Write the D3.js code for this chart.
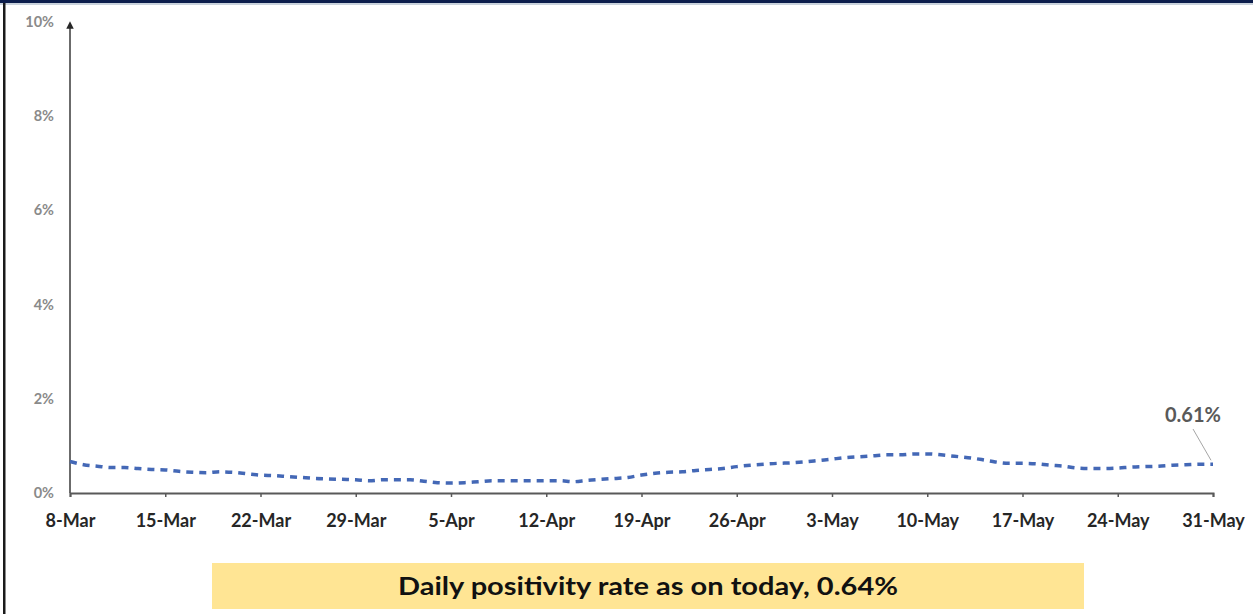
<!DOCTYPE html>
<html>
<head>
<meta charset="utf-8">
<script src="https://cdn.jsdelivr.net/npm/d3@7"></script>
<style>
  html, body { margin: 0; padding: 0; background: #fff; }
  svg { display: block; }
</style>
</head>
<body>
<svg id="chart" width="1253" height="614"></svg>
<script>
// Daily positivity rate, 8-Mar to 31-May (one value per day, in %)
const startDate = new Date(2021, 2, 8);
const rates = [
    0.67, 0.60, 0.57, 0.54, 0.54, 0.52, 0.50, 0.49, 0.46, 0.44,
    0.43, 0.45, 0.44, 0.41, 0.38, 0.37, 0.35, 0.33, 0.31, 0.30,
    0.29, 0.28, 0.26, 0.28, 0.28, 0.28, 0.25, 0.22, 0.21, 0.22,
    0.24, 0.26, 0.26, 0.26, 0.26, 0.26, 0.26, 0.24, 0.27, 0.29,
    0.31, 0.33, 0.38, 0.42, 0.44, 0.45, 0.48, 0.50, 0.52, 0.56,
    0.59, 0.61, 0.63, 0.64, 0.66, 0.69, 0.72, 0.75, 0.77, 0.79,
    0.81, 0.81, 0.83, 0.83, 0.81, 0.78, 0.75, 0.71, 0.66, 0.63,
    0.63, 0.62, 0.59, 0.57, 0.53, 0.52, 0.52, 0.53, 0.55, 0.56,
    0.57, 0.59, 0.60, 0.61, 0.61
];
const xTickLabels = ["8-Mar", "15-Mar", "22-Mar", "29-Mar", "5-Apr", "12-Apr", "19-Apr",
    "26-Apr", "3-May", "10-May", "17-May", "24-May", "31-May"];
const yTicks = [0, 2, 4, 6, 8, 10];
const lastLabel = "0.61%";
const bannerText = "Daily positivity rate as on today, 0.64%";

const data = rates.map((v, i) => ({ date: d3.timeDay.offset(startDate, i), value: v }));
const tickDates = xTickLabels.map((t, i) => d3.timeDay.offset(startDate, i * 7));

const svg = d3.select("#chart");
const font = "Lato, 'Open Sans', sans-serif";

// frame: navy band on top, dark rule on the left
svg.append("rect").attr("x", 0).attr("y", 0).attr("width", 1253).attr("height", 3).attr("fill", "#0c1d4c");
svg.append("rect").attr("x", 0).attr("y", 3).attr("width", 1253).attr("height", 2).attr("fill", "#c9d2dc");
svg.append("rect").attr("x", 3).attr("y", 3).attr("width", 2.5).attr("height", 611).attr("fill", "#1a1a1a");

const plotLeft = 70, plotRight = 1213, plotTop = 22, plotBottom = 493;

const x = d3.scaleTime()
    .domain([startDate, d3.timeDay.offset(startDate, rates.length - 1)])
    .range([plotLeft, plotRight]);
const y = d3.scaleLinear().domain([0, 10]).range([plotBottom, plotTop]);

// y labels (no tick marks)
svg.append("g").selectAll("text")
    .data(yTicks)
    .enter().append("text")
    .attr("x", 54)
    .attr("y", d => y(d) + 5)
    .attr("text-anchor", "end")
    .attr("font-family", font)
    .attr("font-weight", "bold")
    .attr("font-size", 14.5)
    .attr("fill", "#8a8a8a")
    .text(d => d + "%");

// y axis with arrow head
svg.append("defs").append("marker")
    .attr("id", "arrow")
    .attr("viewBox", "0 0 10 10")
    .attr("refX", 5).attr("refY", 5)
    .attr("markerWidth", 5).attr("markerHeight", 5)
    .attr("orient", "auto")
    .append("path").attr("d", "M0,0L10,5L0,10Z").attr("fill", "#262626");

svg.append("line")
    .attr("x1", plotLeft).attr("x2", plotLeft)
    .attr("y1", plotBottom).attr("y2", plotTop + 3)
    .attr("stroke", "#3a3a3a").attr("stroke-width", 1.5)
    .attr("marker-end", "url(#arrow)");

// x axis
const xAxis = d3.axisBottom(x)
    .tickValues(tickDates)
    .tickSize(4)
    .tickFormat((d, i) => xTickLabels[i]);

const gx = svg.append("g")
    .attr("transform", `translate(0,${plotBottom})`)
    .call(xAxis);
gx.select(".domain").attr("stroke", "#595959").attr("stroke-width", 2);
gx.selectAll(".tick line").attr("stroke", "#595959").attr("stroke-width", 1.5);
gx.selectAll(".tick text")
    .attr("y", 21)
    .attr("font-family", font)
    .attr("font-weight", "bold")
    .attr("font-size", 18)
    .attr("fill", "#262626");

// dotted series line
const line = d3.line()
    .x(d => x(d.date))
    .y(d => y(d.value))
    .curve(d3.curveMonotoneX);

svg.append("path")
    .datum(data)
    .attr("d", line)
    .attr("fill", "none")
    .attr("stroke", "#4468b6")
    .attr("stroke-width", 3.5)
    .attr("stroke-dasharray", "7,6");

// last value callout
const last = data[data.length - 1];
svg.append("line")
    .attr("x1", x(last.date) - 20).attr("y1", 429)
    .attr("x2", x(last.date) - 2).attr("y2", y(last.value) - 4)
    .attr("stroke", "#a6a6a6").attr("stroke-width", 1);
svg.append("text")
    .attr("x", x(last.date) - 20)
    .attr("y", 422)
    .attr("text-anchor", "middle")
    .attr("font-family", font)
    .attr("font-weight", "bold")
    .attr("font-size", 20)
    .attr("fill", "#595959")
    .text(lastLabel);

// banner
svg.append("rect")
    .attr("x", 212).attr("y", 563)
    .attr("width", 872).attr("height", 46)
    .attr("fill", "#ffe594");
svg.append("text")
    .attr("x", 648).attr("y", 595)
    .attr("text-anchor", "middle")
    .attr("font-family", font)
    .attr("font-weight", "bold")
    .attr("font-size", 25)
    .attr("textLength", 500)
    .attr("lengthAdjust", "spacingAndGlyphs")
    .attr("fill", "#111")
    .text(bannerText);
</script>
</body>
</html>
